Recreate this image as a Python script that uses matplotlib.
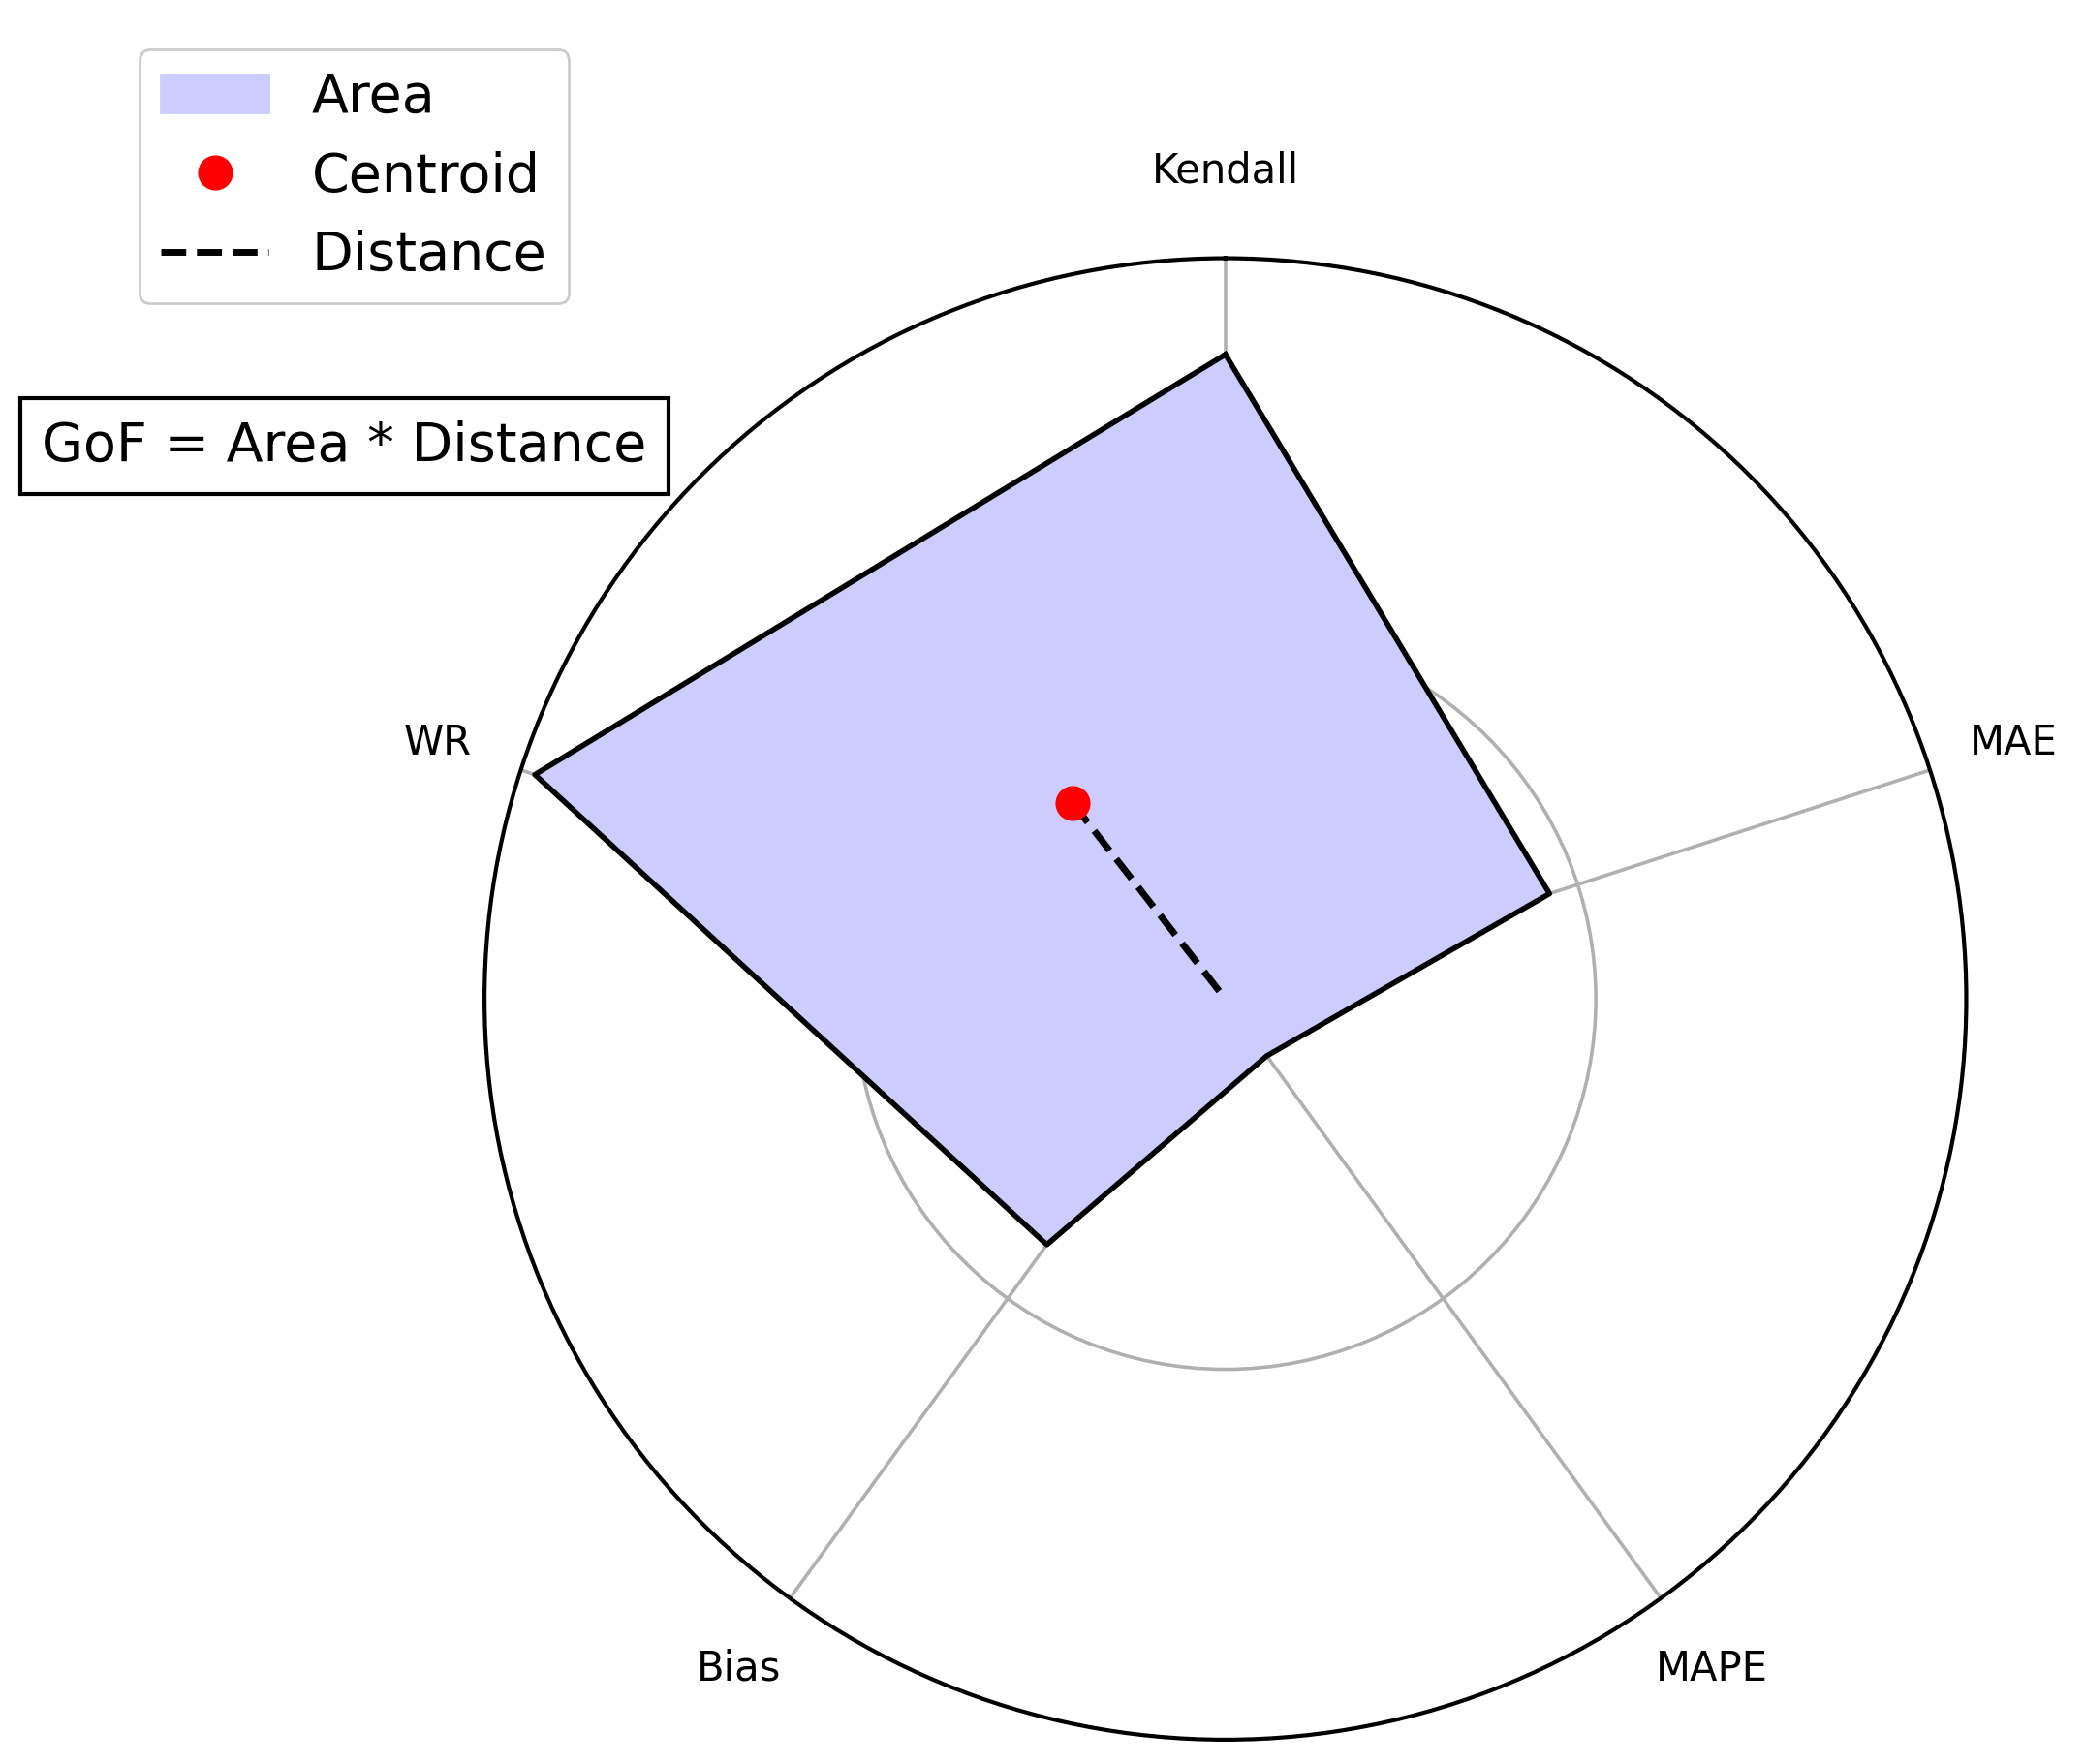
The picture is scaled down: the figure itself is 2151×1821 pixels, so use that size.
import numpy as np
import matplotlib
matplotlib.use("Agg")
import matplotlib.pyplot as plt

categories = ["Kendall", "MAE", "MAPE", "Bias", "WR"]
values = [0.87, 0.46, 0.095, 0.41, 0.98]

n = len(categories)
theta = np.linspace(0, 2*np.pi, n, endpoint=False)

# polygon area centroid in cartesian (compass: theta from north, clockwise)
x = np.array(values)*np.sin(theta); y = np.array(values)*np.cos(theta)
xs = np.append(x, x[0]); ys = np.append(y, y[0])
cr = xs[:-1]*ys[1:] - xs[1:]*ys[:-1]
A = cr.sum()/2
cx = ((xs[:-1]+xs[1:])*cr).sum()/(6*A); cy = ((ys[:-1]+ys[1:])*cr).sum()/(6*A)
c_r = np.hypot(cx, cy); c_t = np.arctan2(cx, cy)

fig = plt.figure(figsize=(10.755, 9.105), dpi=200)
ax = fig.add_axes([0.2325, 0.0137, 0.711, 0.840], projection="polar")
ax.set_theta_offset(np.pi/2); ax.set_theta_direction(-1)
ax.set_ylim(0, 1)
ax.set_rticks([0.5]); ax.set_yticklabels([])
ax.set_xticks(theta); ax.set_xticklabels(categories, fontsize=15)
ax.tick_params(axis="x", pad=22)
ax.grid(color="#b0b0b0", linewidth=1.3)
ax.spines["polar"].set_linewidth(1.5)

tc = np.append(theta, theta[0]); vc = values + [values[0]]
area = ax.fill(tc, vc, color="#ccccff", label="Area", zorder=2)
ax.plot(tc, vc, color="black", linewidth=2, zorder=3)
ax.plot([c_t, 0], [c_r, 0], "k--", linewidth=2.5, label="Distance", zorder=4)
ax.plot([c_t], [c_r], "o", color="red", markersize=12, label="Centroid", linestyle="none", zorder=5)

h, l = ax.get_legend_handles_labels()
order = [0, 2, 1]
fig.legend([h[i] for i in order], [l[i] for i in order], loc="upper left",
           bbox_to_anchor=(0.054, 0.987), fontsize=20, framealpha=1, edgecolor="#cccccc")
fig.text(0.02, 0.747, "GoF = Area * Distance", fontsize=20, va="center", ha="left",
         bbox=dict(boxstyle="square,pad=0.4", facecolor="white", edgecolor="black", linewidth=1.5))
fig.savefig("out.png")
